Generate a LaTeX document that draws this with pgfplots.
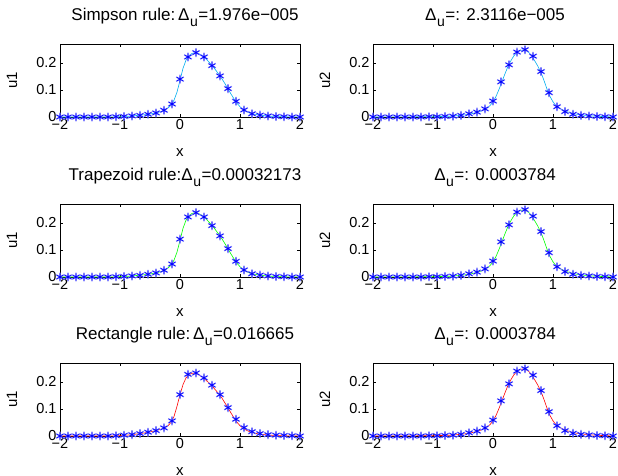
\documentclass[border=0pt]{standalone}
\usepackage{fontspec}
\setmainfont{Liberation Sans}
\usepackage{pgfplots}
\usepackage{pgfplotstable}
\pgfplotsset{compat=1.18}
\definecolor{lightstar}{RGB}{120,120,255}
\definecolor{darkstar}{RGB}{0,0,255}

% u1 markers (Simpson / trapezoid)
\pgfplotstableread{
x u
-2.000 0.000
-1.867 0.000
-1.733 0.000
-1.600 0.000
-1.467 0.000
-1.333 0.000
-1.200 0.000
-1.067 0.001
-0.933 0.002
-0.800 0.004
-0.667 0.006
-0.533 0.010
-0.400 0.015
-0.267 0.025
-0.133 0.048
0.000 0.140
0.133 0.222
0.267 0.238
0.400 0.222
0.533 0.190
0.667 0.152
0.800 0.105
0.933 0.058
1.067 0.026
1.200 0.012
1.333 0.007
1.467 0.004
1.600 0.002
1.733 0.001
1.867 0.000
2.000 0.000
}\mA
\pgfplotstableread{
x u
-2.00 0.000
-1.50 0.000
-1.20 0.000
-1.00 0.001
-0.90 0.002
-0.80 0.004
-0.70 0.006
-0.60 0.008
-0.50 0.011
-0.40 0.015
-0.30 0.021
-0.25 0.026
-0.20 0.033
-0.15 0.044
-0.10 0.062
-0.05 0.092
0.00 0.135
0.05 0.180
0.10 0.210
0.15 0.227
0.20 0.235
0.25 0.238
0.30 0.236
0.35 0.230
0.40 0.222
0.45 0.211
0.50 0.199
0.55 0.186
0.60 0.172
0.65 0.157
0.70 0.141
0.75 0.123
0.80 0.104
0.85 0.085
0.90 0.067
0.95 0.051
1.00 0.038
1.05 0.028
1.10 0.021
1.15 0.016
1.20 0.012
1.30 0.008
1.40 0.005
1.50 0.003
1.70 0.001
2.00 0.000
}\lA
% u1 rectangle
\pgfplotstableread{
x u
-2.000 0.000
-1.867 0.000
-1.733 0.000
-1.600 0.000
-1.467 0.000
-1.333 0.000
-1.200 0.000
-1.067 0.001
-0.933 0.003
-0.800 0.005
-0.667 0.009
-0.533 0.014
-0.400 0.020
-0.267 0.030
-0.133 0.056
0.000 0.153
0.133 0.228
0.267 0.233
0.400 0.215
0.533 0.188
0.667 0.153
0.800 0.105
0.933 0.062
1.067 0.031
1.200 0.016
1.333 0.009
1.467 0.005
1.600 0.003
1.733 0.002
1.867 0.001
2.000 0.000
}\mR
\pgfplotstableread{
x u
-2.00 0.000
-1.50 0.000
-1.20 0.000
-1.00 0.001
-0.90 0.003
-0.80 0.005
-0.70 0.008
-0.60 0.011
-0.50 0.015
-0.40 0.020
-0.30 0.026
-0.25 0.031
-0.20 0.038
-0.15 0.050
-0.10 0.072
-0.05 0.110
0.00 0.153
0.05 0.190
0.10 0.215
0.15 0.227
0.20 0.232
0.25 0.232
0.30 0.228
0.35 0.221
0.40 0.213
0.45 0.203
0.50 0.193
0.55 0.181
0.60 0.168
0.65 0.155
0.70 0.140
0.75 0.122
0.80 0.104
0.85 0.085
0.90 0.067
0.95 0.051
1.00 0.038
1.05 0.029
1.10 0.022
1.15 0.017
1.20 0.013
1.30 0.008
1.40 0.005
1.50 0.003
1.70 0.001
2.00 0.000
}\lR
% u2
\pgfplotstableread{
x u
-2.000 0.000
-1.867 0.000
-1.733 0.000
-1.600 0.000
-1.467 0.000
-1.333 0.000
-1.200 0.000
-1.067 0.001
-0.933 0.001
-0.800 0.002
-0.667 0.003
-0.533 0.006
-0.400 0.012
-0.267 0.018
-0.133 0.030
0.000 0.059
0.133 0.130
0.267 0.193
0.400 0.240
0.533 0.249
0.667 0.225
0.800 0.168
0.933 0.090
1.067 0.038
1.200 0.020
1.333 0.010
1.467 0.006
1.600 0.004
1.733 0.002
1.867 0.001
2.000 0.000
}\mB
\pgfplotstableread{
x u
-2.00 0.000
-1.00 0.001
-0.70 0.003
-0.50 0.007
-0.40 0.010
-0.30 0.015
-0.20 0.022
-0.10 0.033
-0.05 0.042
0.00 0.056
0.05 0.076
0.10 0.102
0.15 0.131
0.20 0.160
0.25 0.187
0.30 0.209
0.35 0.227
0.40 0.239
0.45 0.246
0.50 0.248
0.55 0.246
0.60 0.238
0.65 0.224
0.70 0.206
0.75 0.187
0.80 0.164
0.85 0.135
0.90 0.103
0.95 0.076
1.00 0.056
1.05 0.042
1.10 0.033
1.20 0.022
1.30 0.015
1.40 0.010
1.50 0.007
1.70 0.003
2.00 0.000
}\lB

\newcommand{\Du}{Δ\kern0.5pt\raisebox{-0.36em}{\fontsize{14}{14}\selectfont u}\kern0.5pt}

\pgfplotsset{
  myax/.style={
    scale only axis, width=240pt, height=73pt,
    xmin=-2, xmax=2, ymin=0, ymax=0.27,
    xtick={-2,-1,0,1,2}, xticklabels={−2,−1,0,1,2},
    ytick={0,0.1,0.2}, yticklabels={0,0.1,0.2},
    tick align=inside, major tick length=3pt,
    tick style={black, line width=0.5pt},
    axis line style={black, line width=0.6pt},
    ticklabel style={font=\fontsize{14.5}{14.5}\selectfont},
    xticklabel style={yshift=1pt},
    xlabel={x},
    xlabel style={font=\fontsize{15}{15}\selectfont, at={(axis description cs:0.5,-0.49)}, anchor=center},
    ylabel style={font=\fontsize{15}{15}\selectfont, at={(axis description cs:-0.2,0.5)}, anchor=center},
    title style={font=\fontsize{17}{17}\selectfont, inner sep=0pt, at={(axis description cs:0.5,1)}, anchor=south, yshift=11pt},
    clip=false,
  },
  lightmk/.style={only marks, mark=asterisk, mark size=4.4pt, lightstar, mark options={line width=1.3pt}},
  darkmk/.style={only marks, mark=asterisk, mark size=3.6pt, darkstar, mark options={line width=0.6pt}},
}

\begin{document}
\begin{tikzpicture}[x=1pt,y=1pt]
\useasboundingbox (0,0) rectangle (618,476);
% Row 1
\begin{axis}[myax, at={(60pt,359pt)}, anchor=south west, ylabel={u1},
  title style={xshift=5pt},
  title={Simpson rule:\,\Du=1.976e−005}]
\addplot[lightmk] table[x=x,y=u]{\mA};
\addplot[cyan, line width=0.6pt] table[x=x,y=u]{\lA};
\addplot[darkmk] table[x=x,y=u]{\mA};
\end{axis}
\begin{axis}[myax, at={(373pt,359pt)}, anchor=south west, ylabel={u2},
  title style={xshift=2pt},
  title={\Du=: 2.3116e−005}]
\addplot[lightmk] table[x=x,y=u]{\mB};
\addplot[cyan, line width=0.6pt] table[x=x,y=u]{\lB};
\addplot[darkmk] table[x=x,y=u]{\mB};
\end{axis}
% Row 2
\begin{axis}[myax, at={(60pt,199pt)}, anchor=south west, ylabel={u1},
  title style={xshift=5pt},
  title={Trapezoid rule:\Du=0.00032173}]
\addplot[lightmk] table[x=x,y=u]{\mA};
\addplot[green, line width=0.6pt] table[x=x,y=u]{\lA};
\addplot[darkmk] table[x=x,y=u]{\mA};
\end{axis}
\begin{axis}[myax, at={(373pt,199pt)}, anchor=south west, ylabel={u2},
  title style={xshift=2pt},
  title={\Du=: 0.0003784}]
\addplot[lightmk] table[x=x,y=u]{\mB};
\addplot[green, line width=0.6pt] table[x=x,y=u]{\lB};
\addplot[darkmk] table[x=x,y=u]{\mB};
\end{axis}
% Row 3
\begin{axis}[myax, at={(60pt,40pt)}, anchor=south west, ylabel={u1},
  title style={xshift=5pt},
  title={Rectangle rule:\,\Du=0.016665}]
\addplot[lightmk] table[x=x,y=u]{\mR};
\addplot[red, line width=0.6pt] table[x=x,y=u]{\lR};
\addplot[darkmk] table[x=x,y=u]{\mR};
\end{axis}
\begin{axis}[myax, at={(373pt,40pt)}, anchor=south west, ylabel={u2},
  title style={xshift=2pt},
  title={\Du=: 0.0003784}]
\addplot[lightmk] table[x=x,y=u]{\mB};
\addplot[red, line width=0.6pt] table[x=x,y=u]{\lB};
\addplot[darkmk] table[x=x,y=u]{\mB};
\end{axis}
\end{tikzpicture}
\end{document}
